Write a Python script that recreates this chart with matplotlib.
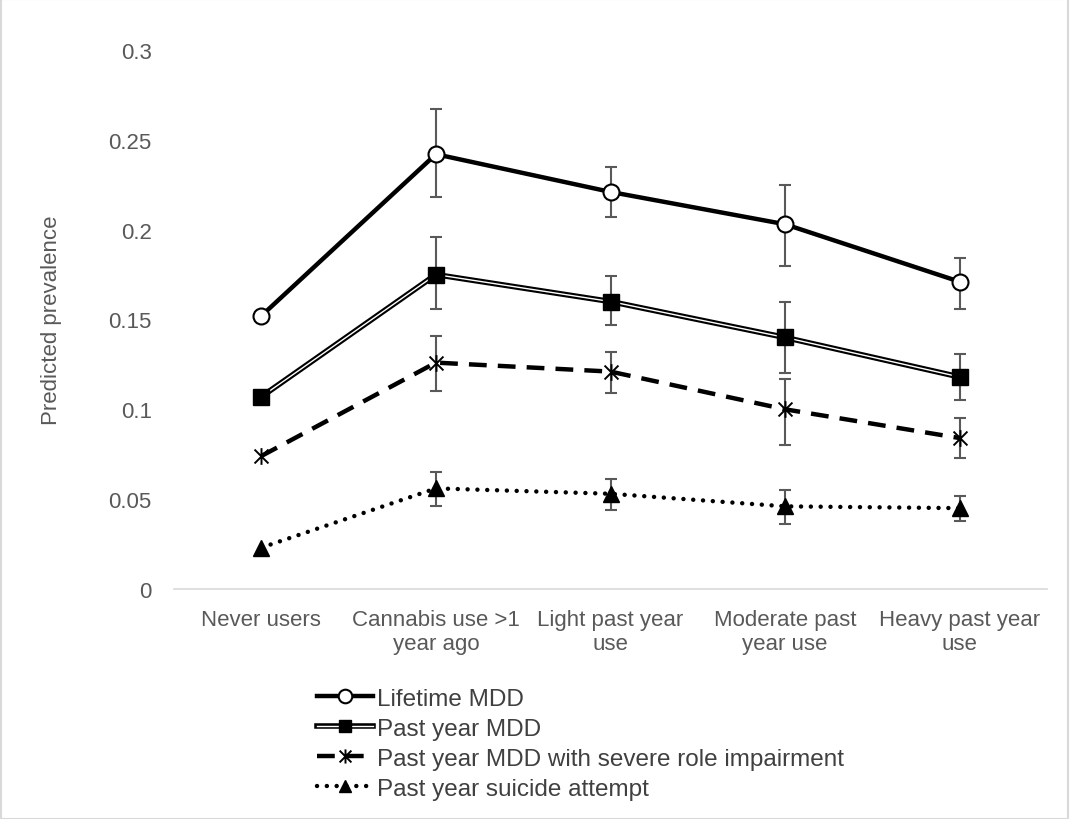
import matplotlib
matplotlib.use("Agg")
import matplotlib.pyplot as plt
import matplotlib.patheffects as pe
from matplotlib.path import Path
from matplotlib.legend_handler import HandlerTuple
from matplotlib.patches import Rectangle
import numpy as np

plt.rcParams['font.family'] = ['Liberation Sans', 'DejaVu Sans']

categories = ['Never users', 'Cannabis use >1\nyear ago', 'Light past year\nuse',
              'Moderate past\nyear use', 'Heavy past year\nuse']

lifetime = [0.152, 0.242, 0.221, 0.203, 0.171]
lifetime_hi = [np.nan, 0.267, 0.235, 0.225, 0.184]
lifetime_lo = [np.nan, 0.218, 0.207, 0.180, 0.156]

past_year = [0.107, 0.175, 0.160, 0.140, 0.118]
past_year_hi = [np.nan, 0.196, 0.174, 0.160, 0.131]
past_year_lo = [np.nan, 0.156, 0.147, 0.120, 0.105]

severe = [0.074, 0.126, 0.121, 0.100, 0.084]
severe_hi = [np.nan, 0.141, 0.132, 0.117, 0.095]
severe_lo = [np.nan, 0.110, 0.109, 0.080, 0.073]

suicide = [0.023, 0.056, 0.053, 0.046, 0.045]
suicide_hi = [np.nan, 0.065, 0.061, 0.055, 0.052]
suicide_lo = [np.nan, 0.046, 0.044, 0.036, 0.038]

x = np.arange(len(categories))
grey = '#595959'

fig = plt.figure(figsize=(10.7, 8.2), dpi=100)
ax = fig.add_axes([0.1626, 0.2805, 0.816, 0.6573])

# error bars first, lines on top
for vals, hi, lo in [(lifetime, lifetime_hi, lifetime_lo),
                     (past_year, past_year_hi, past_year_lo),
                     (severe, severe_hi, severe_lo),
                     (suicide, suicide_hi, suicide_lo)]:
    v = np.array(vals)
    err = [v - np.array(lo), np.array(hi) - v]
    ax.errorbar(x, v, yerr=err, fmt='none', ecolor=grey, elinewidth=1.5,
                capsize=4, capthick=1.5, zorder=2)

# asterisk marker (x with a vertical stroke)
star = Path([(-1, -1), (1, 1), (-1, 1), (1, -1), (0, -1.2), (0, 1.2)],
            [Path.MOVETO, Path.LINETO, Path.MOVETO, Path.LINETO, Path.MOVETO, Path.LINETO])

h1, = ax.plot(x, lifetime, color='black', lw=3.2, marker='o', markersize=11.5,
              markerfacecolor='white', markeredgecolor='black', markeredgewidth=1.5, zorder=4)

l2, = ax.plot(x, past_year, color='white', lw=1,
              path_effects=[pe.Stroke(linewidth=4, foreground='black'), pe.Normal()], zorder=3)
m2, = ax.plot(x, past_year, ls='none', marker='s', markersize=11, color='black', zorder=4)

h3, = ax.plot(x, severe, color='black', lw=3.2, ls=(0, (4, 2.5)), marker=star,
              markersize=12, markeredgewidth=1.4, markerfacecolor='none', zorder=4)

h4, = ax.plot(x, suicide, color='black', lw=3.2, ls=(0, (0.01, 2.2)), dash_capstyle='round',
              marker='^', markersize=11, zorder=4)

ax.set_xlim(-0.5, 4.5)
ax.set_ylim(0, 0.3)
ax.set_yticks([0, 0.05, 0.1, 0.15, 0.2, 0.25, 0.3])
ax.set_yticklabels(['0', '0.05', '0.1', '0.15', '0.2', '0.25', '0.3'])
ax.set_xticks(x)
ax.set_xticklabels(categories, linespacing=1.2)

for s in ['top', 'right', 'left']:
    ax.spines[s].set_visible(False)
ax.spines['bottom'].set_color('#d9d9d9')
ax.spines['bottom'].set_linewidth(1.2)
ax.tick_params(axis='both', length=0, labelsize=16, colors=grey)
ax.tick_params(axis='y', pad=16)
ax.tick_params(axis='x', pad=14.5)

ax.set_ylabel('Predicted prevalence', fontsize=16, color=grey)
ax.yaxis.set_label_coords(-0.128, 0.5)

fig.legend([h1, (l2, m2), h3, h4],
           ['Lifetime MDD', 'Past year MDD', 'Past year MDD with severe role impairment',
            'Past year suicide attempt'],
           handler_map={tuple: HandlerTuple(ndivide=1)},
           loc='upper left', bbox_to_anchor=(0.296, 0.160), frameon=False,
           fontsize=17.5, labelcolor='#404040', handlelength=2.3, handletextpad=0.2,
           labelspacing=0.33, borderpad=0, borderaxespad=0, markerscale=0.85)

fig.patches.append(Rectangle((0.0005, 0.0005), 0.998, 0.999, transform=fig.transFigure,
                             fill=False, edgecolor='#d9d9d9', lw=1.5))

fig.savefig('out.png', dpi=100, facecolor='white')
